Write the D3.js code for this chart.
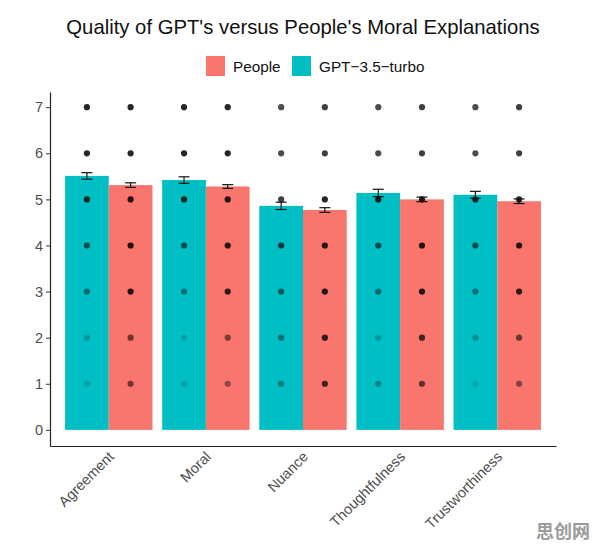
<!DOCTYPE html>
<html>
<head>
<meta charset="utf-8">
<script src="https://cdn.jsdelivr.net/npm/d3@7"></script>
<style>
  body { margin: 0; background: #fff; }
  text { font-family: "Liberation Sans", Arial, sans-serif; }
</style>
</head>
<body>
<svg id="chart"></svg>
<script>
// DATA
const categories = ["Agreement", "Moral", "Nuance", "Thoughtfulness", "Trustworthiness"];
const seriesNames = ["GPT−3.5−turbo", "People"];
const legendOrder = ["People", "GPT−3.5−turbo"];
const gptMeans = [5.51, 5.42, 4.86, 5.14, 5.10];
const gptErr = [0.07, 0.07, 0.08, 0.08, 0.075];
const peopleMeans = [5.31, 5.28, 4.77, 5.00, 4.96];
const peopleErr = [0.05, 0.04, 0.05, 0.05, 0.05];
const ratingLevels = [1, 2, 3, 4, 5, 6, 7];
// opacity of the rating dots (levels 1..7) for each category
const gptDotAlpha = [
  [0.15, 0.2, 0.45, 0.6, 0.8, 0.85, 0.85],
  [0.15, 0.15, 0.4, 0.6, 0.8, 0.85, 0.85],
  [0.35, 0.4, 0.55, 0.7, 0.75, 0.7, 0.7],
  [0.3, 0.2, 0.45, 0.6, 0.85, 0.7, 0.7],
  [0.12, 0.25, 0.4, 0.6, 0.8, 0.7, 0.7]
];
const peopleDotAlpha = [
  [0.55, 0.55, 0.85, 0.85, 0.85, 0.85, 0.85],
  [0.4, 0.5, 0.8, 0.85, 0.85, 0.85, 0.85],
  [0.75, 0.8, 0.85, 0.85, 0.85, 0.75, 0.75],
  [0.6, 0.7, 0.85, 0.85, 0.85, 0.75, 0.75],
  [0.45, 0.55, 0.8, 0.85, 0.85, 0.75, 0.75]
];
const yTicks = [0, 1, 2, 3, 4, 5, 6, 7];

const rows = [];
categories.forEach((c, i) => {
  rows.push({ cat: c, series: seriesNames[0], mean: gptMeans[i], err: gptErr[i], alpha: gptDotAlpha[i] });
  rows.push({ cat: c, series: seriesNames[1], mean: peopleMeans[i], err: peopleErr[i], alpha: peopleDotAlpha[i] });
});

const W = 596, H = 549;
const margin = { top: 92, right: 40, bottom: 103, left: 50 };
const width = W - margin.left - margin.right;
const height = H - margin.top - margin.bottom;

const root = d3.select("#chart").attr("width", W).attr("height", H);
const svg = root.append("g")
  .attr("transform", `translate(${margin.left}, ${margin.top})`);

// SCALES
const x = d3.scaleBand()
  .domain(categories)
  .range([0, width])
  .paddingInner(0.1)
  .paddingOuter(0.155);

const xs = d3.scaleBand()
  .domain(seriesNames)
  .range([0, x.bandwidth()]);

const y = d3.scaleLinear()
  .domain([-0.35, 7.33])
  .range([height, 0]);

const color = d3.scaleOrdinal()
  .domain(["People", "GPT−3.5−turbo"])
  .range(["#F8766D", "#00BFC4"]);

// BARS
svg.selectAll("rect.bar")
  .data(rows)
  .enter()
  .append("rect")
  .attr("class", "bar")
  .attr("x", d => x(d.cat) + xs(d.series))
  .attr("y", d => y(d.mean))
  .attr("width", xs.bandwidth())
  .attr("height", d => y(0) - y(d.mean))
  .attr("fill", d => color(d.series));

// DOTS
const dots = [];
rows.forEach(r => {
  ratingLevels.forEach((v, k) => dots.push({ cat: r.cat, series: r.series, v: v, a: r.alpha[k] }));
});
svg.selectAll("circle")
  .data(dots)
  .enter()
  .append("circle")
  .attr("cx", d => x(d.cat) + xs(d.series) + xs.bandwidth() / 2)
  .attr("cy", d => y(d.v))
  .attr("r", 3.1)
  .attr("fill", "#000")
  .attr("fill-opacity", d => d.a);

// ERROR BARS
const eb = svg.selectAll("g.err")
  .data(rows)
  .enter()
  .append("g")
  .attr("class", "err")
  .attr("transform", d => `translate(${x(d.cat) + xs(d.series) + xs.bandwidth() / 2}, 0)`)
  .attr("stroke", "#111")
  .attr("stroke-width", 1.2);
eb.append("line").attr("y1", d => y(d.mean - d.err)).attr("y2", d => y(d.mean + d.err));
eb.append("line").attr("x1", -5.5).attr("x2", 5.5).attr("y1", d => y(d.mean + d.err)).attr("y2", d => y(d.mean + d.err));
eb.append("line").attr("x1", -5.5).attr("x2", 5.5).attr("y1", d => y(d.mean - d.err)).attr("y2", d => y(d.mean - d.err));

// AXES
const yAxis = svg.append("g")
  .call(d3.axisLeft(y).tickValues(yTicks).tickSize(4).tickPadding(3).tickSizeOuter(0));
yAxis.select(".domain").attr("stroke", "#222").attr("stroke-width", 1.2);
yAxis.selectAll(".tick line").attr("stroke", "#333");
yAxis.selectAll("text").attr("fill", "#4d4d4d").style("font-size", "14.5px");

const xAxis = svg.append("g")
  .attr("transform", `translate(0, ${height})`)
  .call(d3.axisBottom(x).tickSize(0).tickSizeOuter(0));
xAxis.select(".domain").attr("stroke", "#222").attr("stroke-width", 1.2);
xAxis.selectAll("text")
  .attr("fill", "#4d4d4d")
  .style("font-size", "14.5px")
  .attr("text-anchor", "end")
  .attr("x", 0)
  .attr("y", 0)
  .attr("dx", -4)
  .attr("dy", 12.5)
  .attr("transform", "rotate(-45)");

// TITLE
root.append("text")
  .attr("x", 303)
  .attr("y", 34)
  .attr("text-anchor", "middle")
  .style("font-size", "20.3px")
  .attr("fill", "#111")
  .text("Quality of GPT's versus People's Moral Explanations");

// LEGEND
const legendX = [206, 292];
const lg = root.selectAll("g.legend")
  .data(legendOrder)
  .enter()
  .append("g")
  .attr("class", "legend")
  .attr("transform", (d, i) => `translate(${legendX[i]}, 56)`);
lg.append("rect").attr("width", 19).attr("height", 20).attr("fill", d => color(d));
lg.append("text")
  .attr("x", 27)
  .attr("y", 15.5)
  .style("font-size", "15.3px")
  .attr("fill", "#111")
  .text(d => d);

// watermark
root.append("text")
  .attr("x", 590)
  .attr("y", 538)
  .attr("text-anchor", "end")
  .style("font-family", "'Noto Sans CJK SC', sans-serif")
  .style("font-size", "18px")
  .style("font-weight", "bold")
  .attr("fill", "#9a9a9a")
  .text("思创网");
</script>
</body>
</html>
